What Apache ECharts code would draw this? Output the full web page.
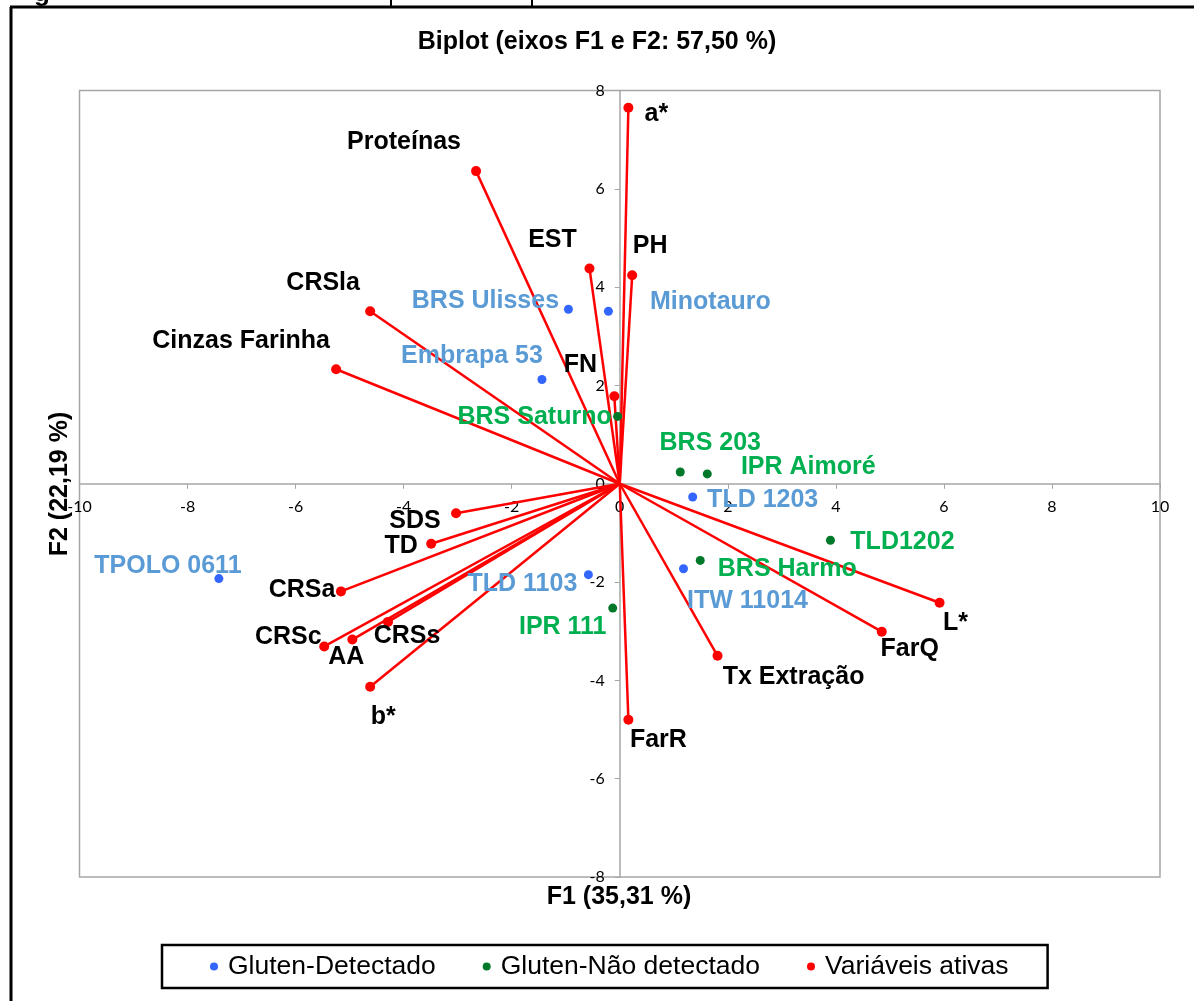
<!DOCTYPE html>
<html>
<head>
<meta charset="utf-8">
<script src="https://cdn.jsdelivr.net/npm/echarts@6/dist/echarts.min.js"></script>
<style>
html,body{margin:0;padding:0;background:#fff;}
#chart{width:1194px;height:1001px;}
</style>
</head>
<body>
<div id="chart"></div>
<script>
// ---- Data ----
const titleText = 'Biplot (eixos F1 e F2: 57,50 %)';
const xAxisTitle = 'F1 (35,31 %)';
const yAxisTitle = 'F2 (22,19 %)';
const seriesNames = ['Gluten-Detectado', 'Gluten-Não detectado', 'Variáveis ativas'];

// Active variables (vectors)
const varNames = ['a*', 'Proteínas', 'EST', 'PH', 'CRSla', 'Cinzas Farinha', 'FN', 'SDS', 'TD', 'CRSa', 'CRSc', 'AA', 'CRSs', 'b*', 'FarR', 'Tx Extração', 'FarQ', 'L*'];
const varX = [0.16, -2.66, -0.56, 0.23, -4.62, -5.25, -0.10, -3.03, -3.49, -5.16, -5.47, -4.95, -4.29, -4.62, 0.16, 1.81, 4.85, 5.92];
const varY = [7.65, 6.36, 4.38, 4.24, 3.51, 2.33, 1.78, -0.60, -1.22, -2.19, -3.31, -3.17, -2.81, -4.13, -4.80, -3.50, -3.01, -2.42];

// Gluten detected observations
const gdNames = ['BRS Ulisses', 'Minotauro', 'Embrapa 53', 'TPOLO 0611', 'TLD 1103', 'TLD 1203', 'ITW 11014'];
const gdX = [-0.95, -0.21, -1.44, -7.42, -0.58, 1.35, 1.18];
const gdY = [3.55, 3.51, 2.12, -1.93, -1.85, -0.27, -1.73];

// Gluten not detected observations
const gndNames = ['BRS Saturno', 'BRS 203', 'IPR Aimoré', 'TLD1202', 'BRS Harmo', 'IPR 111'];
const gndX = [-0.04, 1.12, 1.62, 3.90, 1.49, -0.13];
const gndY = [1.37, 0.24, 0.20, -1.15, -1.56, -2.53];

// Axis ranges
const xMin = -10, xMax = 10, xStep = 2;
const yMin = -8, yMax = 8, yStep = 2;

// ---- Label placement (pixel offsets from point centre) ----
const labelOffsets = {
  'a*': [28, 6], 'Proteínas': [-72, -29], 'EST': [-37, -28], 'PH': [18, -29],
  'CRSla': [-47, -28], 'Cinzas Farinha': [-95, -28], 'FN': [-34, -31], 'SDS': [-41, 8],
  'TD': [-30, 2], 'CRSa': [-39, -1], 'CRSc': [-36, -9], 'AA': [-6, 18],
  'CRSs': [19, 14], 'b*': [13, 30], 'FarR': [30, 20], 'Tx Extração': [76, 21],
  'FarQ': [28, 17], 'L*': [16, 20],
  'BRS Ulisses': [-83, -8], 'Minotauro': [102, -9], 'Embrapa 53': [-70, -23],
  'TPOLO 0611': [-51, -13], 'TLD 1103': [-66, 9], 'TLD 1203': [70, 3], 'ITW 11014': [64, 32],
  'BRS Saturno': [-83, 1], 'BRS 203': [30, -29], 'IPR Aimoré': [101, -7],
  'TLD1202': [72, 2], 'BRS Harmo': [87, 9], 'IPR 111': [-50, 19]
};

const FONT = '"Liberation Sans", Arial, sans-serif';
const RED = '#ff0000';
const BLUE_DOT = '#3366ff', BLUE_TXT = '#5b9bd5';
const GREEN_DOT = '#00782a', GREEN_TXT = '#00b050';

// grid geometry
const G = { left: 79.5, right: 34, top: 90.5, bottom: 124 };
const plotW = 1194 - G.left - G.right, plotH = 1001 - G.top - G.bottom;
const xZeroOffset = -plotW * (0 - xMin) / (xMax - xMin);
const yZeroOffset = -plotH * (0 - yMin) / (yMax - yMin);

function pts(names, xs, ys, txtColor) {
  return names.map((n, i) => ({
    name: n,
    value: [xs[i], ys[i]],
    label: {
      show: true, position: 'inside', formatter: n,
      offset: labelOffsets[n] || [0, 0],
      color: txtColor, opacity: 1, textBorderWidth: 0,
      fontFamily: FONT, fontWeight: 'bold', fontSize: 25
    }
  }));
}

const series = [];
varNames.forEach((n, i) => {
  series.push({
    name: 'vec_' + n, type: 'line', data: [[0, 0], [varX[i], varY[i]]],
    symbol: 'none', silent: true, z: 2,
    lineStyle: { color: RED, width: 2.5, opacity: 1 }
  });
});
series.push({
  name: seriesNames[0], type: 'scatter', symbolSize: 9, z: 4,
  itemStyle: { color: BLUE_DOT, opacity: 1 }, data: pts(gdNames, gdX, gdY, BLUE_TXT)
});
series.push({
  name: seriesNames[1], type: 'scatter', symbolSize: 9, z: 4,
  itemStyle: { color: GREEN_DOT, opacity: 1 }, data: pts(gndNames, gndX, gndY, GREEN_TXT)
});
series.push({
  name: seriesNames[2], type: 'scatter', symbolSize: 10, z: 4,
  itemStyle: { color: RED, opacity: 1 }, data: pts(varNames, varX, varY, '#000')
});

const chart = echarts.init(document.getElementById('chart'), null, { renderer: 'canvas' });
chart.setOption({
  animation: false,
  backgroundColor: '#fff',
  grid: { left: G.left, right: G.right, top: G.top, bottom: G.bottom, show: true, borderColor: '#a6a6a6', borderWidth: 1.5, containLabel: false, outerBoundsMode: 'none' },
  xAxis: {
    type: 'value', min: xMin, max: xMax, interval: xStep,
    position: 'bottom', offset: yZeroOffset,
    axisLine: { onZero: false, lineStyle: { color: '#a6a6a6', width: 1.5 } },
    axisTick: { show: true, length: 5, lineStyle: { color: '#a6a6a6' } },
    axisLabel: { color: '#000', fontFamily: 'Lato, sans-serif', fontSize: 16, margin: 15, hideOverlap: false },
    splitLine: { show: false }
  },
  yAxis: {
    type: 'value', min: yMin, max: yMax, interval: yStep,
    position: 'left', offset: xZeroOffset,
    axisLine: { onZero: false, lineStyle: { color: '#a6a6a6', width: 1.5 } },
    axisTick: { show: true, length: 5, lineStyle: { color: '#a6a6a6' } },
    axisLabel: { color: '#000', fontFamily: 'Lato, sans-serif', fontSize: 16, margin: 15, hideOverlap: false },
    splitLine: { show: false }
  },
  legend: {
    data: seriesNames,
    left: 162, top: 945,
    orient: 'horizontal',
    padding: [8, 39, 8, 48],
    itemGap: 47, itemWidth: 18, itemHeight: 8,
    icon: 'circle',
    borderColor: '#000', borderWidth: 2.5,
    textStyle: { fontFamily: FONT, fontSize: 26.5, color: '#000' }
  },
  graphic: [
    { type: 'text', left: 'center', top: 30, style: { text: titleText, font: 'bold 25px ' + FONT, fill: '#000' } },
    { type: 'text', x: 619, y: 897, style: { text: xAxisTitle, font: 'bold 25px ' + FONT, fill: '#000', textAlign: 'center', textVerticalAlign: 'middle' } },
    { type: 'text', x: 60, y: 484, rotation: Math.PI / 2, style: { text: yAxisTitle, font: 'bold 25px ' + FONT, fill: '#000', textAlign: 'center', textVerticalAlign: 'middle' } },
    { type: 'line', shape: { x1: 11, y1: 7, x2: 11, y2: 1001 }, style: { stroke: '#000', lineWidth: 3 } },
    { type: 'line', shape: { x1: 10, y1: 7, x2: 1194, y2: 7 }, style: { stroke: '#000', lineWidth: 3 } },
    { type: 'text', x: 34, y: -19, style: { text: 'g', font: 'bold 26px ' + FONT, fill: '#000' } },
    { type: 'line', shape: { x1: 391, y1: 0, x2: 391, y2: 6 }, style: { stroke: '#000', lineWidth: 2 } },
    { type: 'line', shape: { x1: 532, y1: 0, x2: 532, y2: 6 }, style: { stroke: '#000', lineWidth: 2 } }
  ],
  series: series
});
</script>
</body>
</html>
